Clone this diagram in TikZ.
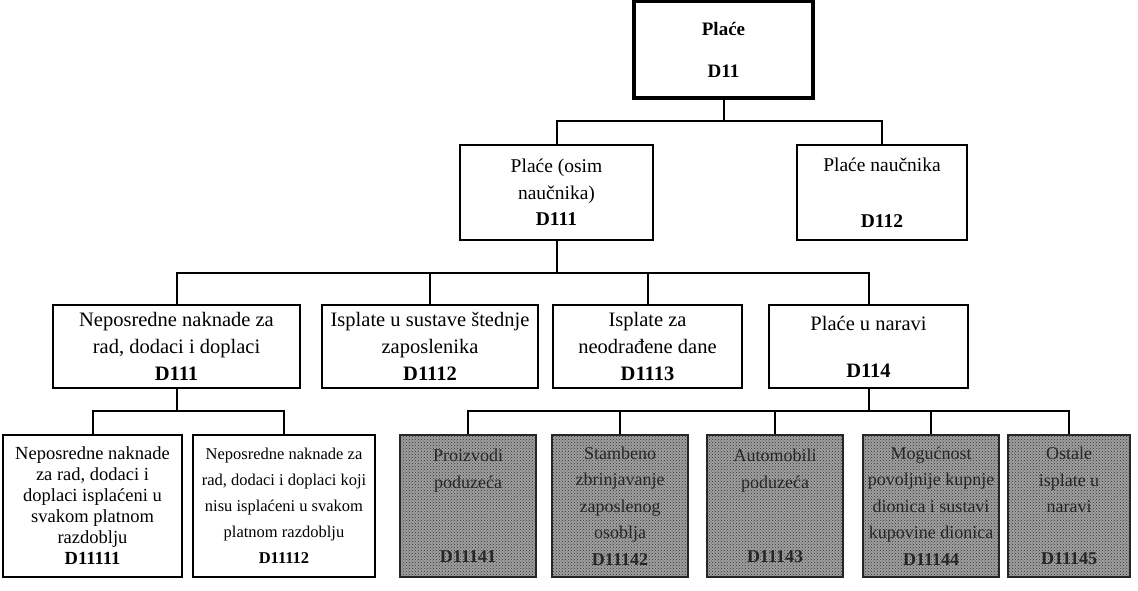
\documentclass[tikz,border=0pt]{standalone}
\usepackage{fontspec}
\setmainfont{Liberation Serif}
\usepackage{tikz}
\usetikzlibrary{positioning, patterns}
\tikzset{
  org/top/.style={rectangle, draw=black, fill=white, line width=3.6pt,
    minimum width=179pt, minimum height=97pt, inner sep=0pt,
    font=\fontsize{19}{22}\selectfont\bfseries, align=center},
  org/box/.style={rectangle, draw=black, fill=white, line width=2.6pt,
    inner sep=0pt, font=\fontsize{18}{26.5}\selectfont, align=center},
  org/mid/.style={org/box, font=\fontsize{20.5}{27}\selectfont},
  org/small/.style={org/box, font=\fontsize{16.5}{26}\selectfont},
  org/shade/.style={org/box, preaction={fill=gray!75},
    pattern=crosshatch dots, pattern color=black!80, text=black!85,
    draw=black!85},
  org/arr/.style={line width=2pt, draw=black}
}
\begin{document}
\begin{tikzpicture}[x=1pt, y=-1pt]
  \useasboundingbox (0,0) rectangle (1138,591);
  % razina 1 i 2
  \node[org/top] at (723.5, 49.5) (d11) {Plaće\\[20pt]D11};
  \node[org/box, font=\fontsize{19.5}{26.5}\selectfont,
        minimum width=193pt, minimum height=95pt] at (556.5, 192.5) (d111)
        {Plaće (osim\\naučnika)\\\textbf{D111}};
  \node[org/box, font=\fontsize{19.5}{26.5}\selectfont,
        minimum width=170pt, minimum height=95pt] at (882, 192.5) (d112)
        {Plaće naučnika\\[30pt]\textbf{D112}};
  % razina 3
  \node[org/mid, minimum width=247pt, minimum height=83pt] at (176.5, 346.5) (d1111)
        {Neposredne naknade za\\rad, dodaci i doplaci\\\textbf{D111}};
  \node[org/mid, minimum width=216pt, minimum height=83pt] at (430, 346.5) (d1112)
        {Isplate u sustave štednje\\zaposlenika\\\textbf{D1112}};
  \node[org/mid, minimum width=189pt, minimum height=83pt] at (647.5, 346.5) (d1113)
        {Isplate za\\neodrađene dane\\\textbf{D1113}};
  \node[org/mid, minimum width=199pt, minimum height=83pt] at (868.5, 346.5) (d114)
        {Plaće u naravi\\[20pt]\textbf{D114}};
  % razina 4
  \node[org/box, minimum width=179pt, minimum height=142pt,
        font=\fontsize{18.5}{21}\selectfont] at (92.5, 506) (d11111)
        {Neposredne naknade\\za rad, dodaci i\\doplaci isplaćeni u\\svakom platnom\\razdoblju\\\textbf{D11111}};
  \node[org/small, minimum width=182pt, minimum height=142pt] at (284, 506) (d11112)
        {Neposredne naknade za\\rad, dodaci i doplaci koji\\nisu isplaćeni u svakom\\platnom razdoblju\\\textbf{D11112}};
  \node[org/shade, minimum width=136pt, minimum height=142pt] at (468, 506) (d11141)
        {Proizvodi\\poduzeća\\[48pt]\textbf{D11141}};
  \node[org/shade, minimum width=136pt, minimum height=142pt] at (620, 506) (d11142)
        {Stambeno\\zbrinjavanje\\zaposlenog\\osoblja\\\textbf{D11142}};
  \node[org/shade, minimum width=136pt, minimum height=142pt] at (775, 506) (d11143)
        {Automobili\\poduzeća\\[48pt]\textbf{D11143}};
  \node[org/shade, minimum width=136pt, minimum height=142pt] at (931, 506) (d11144)
        {Mogućnost\\povoljnije kupnje\\dionica i sustavi\\kupovine dionica\\\textbf{D11144}};
  \node[org/shade, minimum width=122pt, minimum height=142pt] at (1069, 506) (d11145)
        {Ostale\\isplate u\\naravi\\[25pt]\textbf{D11145}};

  \draw[org/arr] (d11.south) -- ++(0,21) coordinate (bus1);
  \draw[org/arr] (bus1) -| (d111.north);
  \draw[org/arr] (bus1) -| (d112.north);
  \draw[org/arr] (d111.south) -- ++(0,32) coordinate (bus2);
  \foreach \n in {d1111, d1112, d1113, d114}
    \draw[org/arr] (bus2) -| (\n.north);
  \draw[org/arr] (d1111.south) -- ++(0,22) coordinate (bus3);
  \foreach \n in {d11111, d11112}
    \draw[org/arr] (bus3) -| (\n.north);
  \draw[org/arr] (d114.south) -- ++(0,22) coordinate (bus4);
  \foreach \n in {d11141, d11142, d11143, d11144, d11145}
    \draw[org/arr] (bus4) -| (\n.north);
\end{tikzpicture}
\end{document}
